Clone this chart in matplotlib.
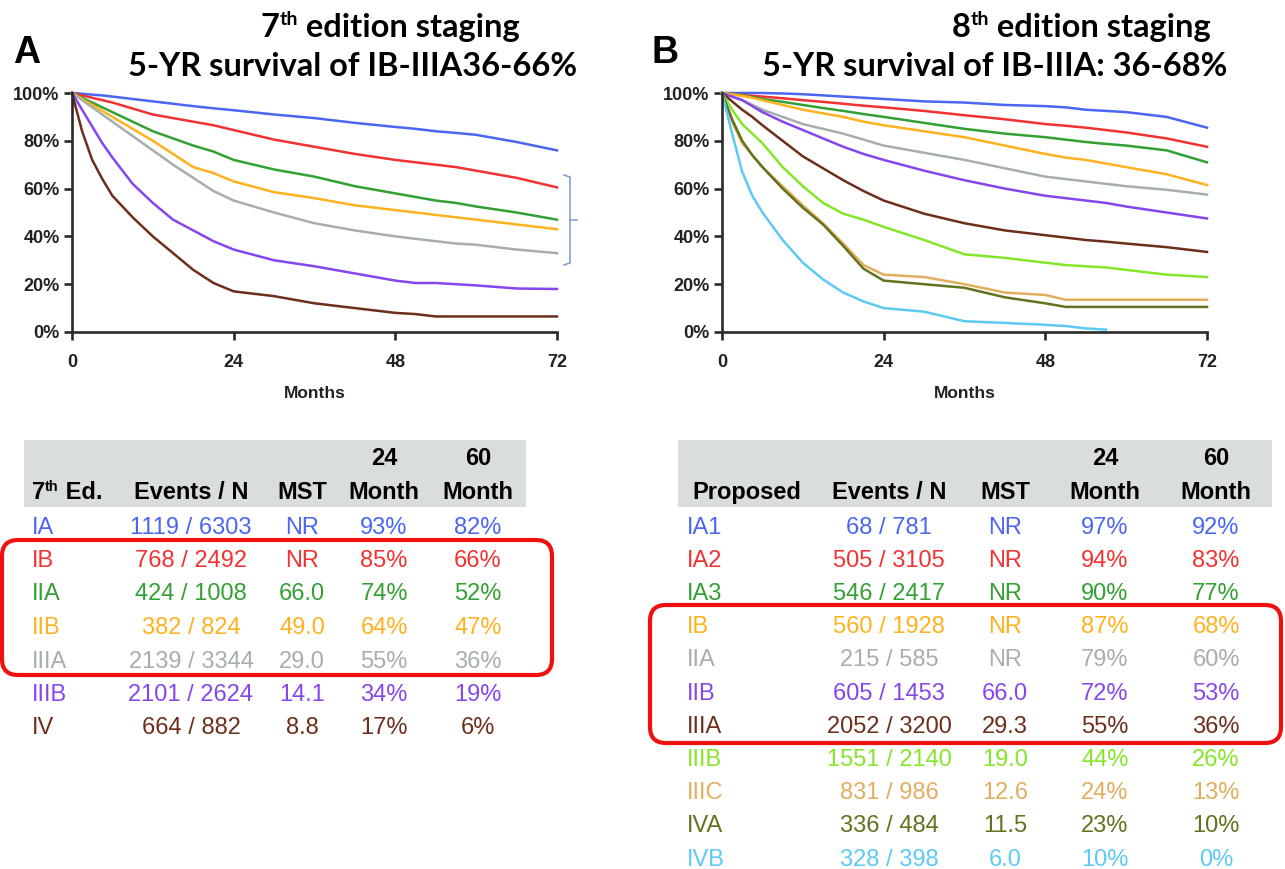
import numpy as np
import matplotlib
matplotlib.use("Agg")
import matplotlib.pyplot as plt
from matplotlib.patches import FancyBboxPatch, Rectangle
from matplotlib.lines import Line2D

# ---------------- data ----------------
months = [0, 1.5, 3, 4.5, 6, 9, 12, 15, 18, 21, 24, 30, 36, 42, 48, 51, 54, 57, 60, 66, 72]

# Panel A (7th edition) survival %
A_IA   = [100, 99.7, 99.3, 99, 98.5, 97.5, 96.5, 95.5, 94.5, 93.6, 92.8, 91, 89.5, 87.5, 85.8, 85, 84, 83.3, 82.5, 79.5, 76]
A_IB   = [100, 99, 98, 97, 96, 93.5, 91, 89.5, 88, 86.5, 84.5, 80.5, 77.5, 74.5, 72, 71, 70, 69, 67.5, 64.5, 60.5]
A_IIA  = [100, 98, 96, 94, 92, 88, 84, 81, 78, 75.5, 72, 68, 65, 61, 58, 56.5, 55, 54, 52.5, 50, 47]
A_IIB  = [100, 97.5, 95, 92.5, 90, 85, 80, 74.5, 69, 66.5, 63, 58.5, 56, 53, 51, 50, 49, 48, 47, 45, 43]
A_IIIA = [100, 97, 94, 91, 88, 82, 76, 70, 64.5, 59, 55, 50, 45.5, 42.5, 40, 39, 38, 37, 36.5, 34.5, 33]
A_IIIB = [100, 93, 86, 79, 73, 62, 54, 47, 42.5, 38, 34.5, 30, 27.5, 24.5, 21.5, 20.5, 20.5, 20, 19.5, 18.2, 18]
A_IV   = [100, 84, 72, 64, 57, 48, 40, 33, 26, 20.5, 17, 15, 12, 10, 8, 7.5, 6.5, 6.5, 6.5, 6.5, 6.5]

# Panel B (8th edition) survival %
B_IA1  = [100, 100, 100, 100, 100, 99.8, 99.5, 99, 98.5, 98, 97.5, 96.5, 96, 95, 94.5, 94, 93, 92.5, 92, 90, 85.5]
B_IA2  = [100, 99.6, 99.2, 98.8, 98.5, 97.8, 97, 96.3, 95.5, 94.7, 94, 92.5, 90.7, 89, 87, 86.3, 85.5, 84.5, 83.5, 81, 77.5]
B_IA3  = [100, 99.5, 99, 98.3, 97.5, 96.3, 95, 93.7, 92.5, 91.2, 90, 87.5, 85, 83, 81.5, 80.5, 79.5, 78.7, 78, 76, 71]
B_IB   = [100, 99.4, 98.8, 98, 97, 95, 93, 91.5, 90, 88, 86.5, 84, 81.5, 78, 74.5, 73, 72, 70.5, 69, 66, 61.5]
B_IIA  = [100, 98.5, 97, 95, 93, 90, 87, 85, 83, 80.5, 78, 75, 72, 68.5, 65, 64, 63, 62, 61, 59.5, 57.5]
B_IIB  = [100, 98.5, 97, 94.5, 92, 88, 84.5, 81, 77.5, 74.5, 72, 67.5, 63.5, 60, 57, 56, 55, 54, 52.5, 50, 47.5]
B_IIIA = [100, 96.5, 93, 90, 86.5, 80, 73.5, 68.5, 63.5, 59, 55, 49.5, 45.5, 42.5, 40.5, 39.5, 38.5, 37.8, 37, 35.5, 33.5]
B_IIIB = [100, 93, 87, 83, 79, 69, 61, 54, 49.5, 47, 44, 38.5, 32.5, 31, 29, 28, 27.5, 27, 26, 24, 23]
B_IIIC = [100, 88, 79, 74, 69, 61, 53, 45.5, 37, 28, 24, 23, 20, 16.5, 15.5, 13.5, 13.5, 13.5, 13.5, 13.5, 13.5]
B_IVA  = [100, 89, 80, 74, 69, 60, 52, 45, 36, 26.5, 21.5, 20, 18.5, 14.5, 12, 10.5, 10.5, 10.5, 10.5, 10.5, 10.5]
B_IVB  = [100, 83, 67, 57, 50, 38.5, 29, 22, 16.5, 12.8, 10, 8.5, 4.5, 3.8, 3, 2.5, 1.5, 1, None, None, None]

# Tables
A_stages = ["IA", "IB", "IIA", "IIB", "IIIA", "IIIB", "IV"]
A_events = ["1119 / 6303", "768 / 2492", "424 / 1008", "382 / 824", "2139 / 3344", "2101 / 2624", "664 / 882"]
A_mst    = ["NR", "NR", "66.0", "49.0", "29.0", "14.1", "8.8"]
A_m24    = ["93%", "85%", "74%", "64%", "55%", "34%", "17%"]
A_m60    = ["82%", "66%", "52%", "47%", "36%", "19%", "6%"]

B_stages = ["IA1", "IA2", "IA3", "IB", "IIA", "IIB", "IIIA", "IIIB", "IIIC", "IVA", "IVB"]
B_events = ["68 / 781", "505 / 3105", "546 / 2417", "560 / 1928", "215 / 585", "605 / 1453",
            "2052 / 3200", "1551 / 2140", "831 / 986", "336 / 484", "328 / 398"]
B_mst    = ["NR", "NR", "NR", "NR", "NR", "66.0", "29.3", "19.0", "12.6", "11.5", "6.0"]
B_m24    = ["97%", "94%", "90%", "87%", "79%", "72%", "55%", "44%", "24%", "23%", "10%"]
B_m60    = ["92%", "83%", "77%", "68%", "60%", "53%", "36%", "26%", "13%", "10%", "0%"]

yticks = [0, 20, 40, 60, 80, 100]
xticks = [0, 24, 48, 72]

# colours
C_BLUE, C_RED, C_GREEN, C_ORANGE = "#4a66f2", "#f23232", "#33a033", "#ffb21e"
C_GRAY, C_PURPLE, C_BROWN = "#a6aeae", "#8646ee", "#6e2e1c"
C_LIME, C_TAN, C_OLIVE, C_LBLUE = "#84e628", "#e2ae5e", "#62731f", "#5ccaf4"

A_series = [A_IA, A_IB, A_IIA, A_IIB, A_IIIA, A_IIIB, A_IV]
A_colors = [C_BLUE, C_RED, C_GREEN, C_ORANGE, C_GRAY, C_PURPLE, C_BROWN]
B_series = [B_IA1, B_IA2, B_IA3, B_IB, B_IIA, B_IIB, B_IIIA, B_IIIB, B_IIIC, B_IVA, B_IVB]
B_colors = [C_BLUE, C_RED, C_GREEN, C_ORANGE, C_GRAY, C_PURPLE, C_BROWN, C_LIME, C_TAN, C_OLIVE, C_LBLUE]

# ---------------- figure ----------------
W, H = 1285, 869
fig = plt.figure(figsize=(W / 100, H / 100), dpi=100)
fig.patch.set_facecolor("white")

# overlay axes in pixel coordinates (y downward)
ov = fig.add_axes([0, 0, 1, 1])
ov.set_xlim(0, W)
ov.set_ylim(H, 0)
ov.axis("off")

SANS = "Liberation Sans"
TITLE = "Lato"


def fx(x):
    return x / W


def fy(y):
    return 1 - y / H


def km_axes(x0, x1, series, colors):
    ax = fig.add_axes([fx(x0), fy(332), fx(x1) - fx(x0), fy(93) - fy(332)])
    for s, c in zip(series, colors):
        vals = np.array([np.nan if v is None else v for v in s], dtype=float)
        ax.plot(months, vals, color=c, lw=1.8, clip_on=False, solid_joinstyle="round")
    ax.set_xlim(0, 72)
    ax.set_ylim(0, 100)
    for side in ("top", "right"):
        ax.spines[side].set_visible(False)
    for side in ("left", "bottom"):
        ax.spines[side].set_linewidth(1.9)
        ax.spines[side].set_color("#2a2a2a")
    ax.set_xticks(xticks)
    ax.set_xticklabels([str(t) for t in xticks], fontfamily=SANS, fontweight="bold", fontsize=13, color="#222")
    ax.set_yticks(yticks)
    ax.set_yticklabels([f"{t}%" for t in yticks], fontfamily=SANS, fontweight="bold", fontsize=13, color="#222")
    ax.tick_params(axis="x", direction="out", length=6, width=1.9, color="#2a2a2a", pad=10)
    ax.tick_params(axis="y", direction="out", length=6, width=1.9, color="#2a2a2a", pad=3)
    ax.set_xlabel("Months", fontfamily=SANS, fontweight="bold", fontsize=12.5, color="#222", labelpad=11)
    ax.patch.set_alpha(0)
    return ax


axA = km_axes(72, 557, A_series, A_colors)
axB = km_axes(722, 1207, B_series, B_colors)

fig.canvas.draw()
renderer = fig.canvas.get_renderer()


def rich(x, y, parts, ha="left", family=TITLE, weight="bold", color="black"):
    """parts: list of (text, fontsize, dy_px) drawn sequentially on baseline y."""
    texts = []
    widths = []
    for s, size, dy in parts:
        t = ov.text(0, y + dy, s, fontsize=size, fontfamily=family, fontweight=weight,
                    color=color, ha="left", va="baseline")
        texts.append(t)
        widths.append(t.get_window_extent(renderer).width)
    total = sum(widths)
    if ha == "center":
        start = x - total / 2
    elif ha == "right":
        start = x - total
    else:
        start = x
    cur = start
    for t, w in zip(texts, widths):
        t.set_x(cur)
        cur += w
    return texts


# Panel letters
ov.text(13, 63, "A", fontsize=27, fontfamily=SANS, fontweight="bold", ha="left", va="baseline")
ov.text(652, 63, "B", fontsize=27, fontfamily=SANS, fontweight="bold", ha="left", va="baseline")

# Titles
rich(390, 37, [("7", 23.5, 0), ("th", 14, -12), (" edition staging", 23.5, 0)], ha="center")
rich(353, 76, [("5-YR survival of IB-IIIA36-66%", 23.5, 0)], ha="center")
rich(1081, 37, [("8", 23.5, 0), ("th", 14, -12), (" edition staging", 23.5, 0)], ha="center")
rich(995, 76, [("5-YR survival of IB-IIIA: 36-68%", 23.5, 0)], ha="center")

# bracket in panel A
bc = "#7a98d8"
ov.add_line(Line2D([564, 570, 570, 564], [175, 177, 263, 265], color=bc, lw=1.1))
ov.add_line(Line2D([570, 577], [220, 220], color=bc, lw=1.1))

# ---------------- tables ----------------
TFS = 17


def table(x0, x1, label_x, cols_x, head_label, stages, events, mst, m24, m60, colors, row0, dy):
    ov.add_patch(Rectangle((x0, 440), x1 - x0, 67, facecolor="#d9dedd", edgecolor="none", zorder=0))
    hb = 499
    ov.text(cols_x[0], hb, "Events / N", fontsize=TFS, fontfamily=SANS, fontweight="bold", ha="center", va="baseline")
    ov.text(cols_x[1], hb, "MST", fontsize=TFS, fontfamily=SANS, fontweight="bold", ha="center", va="baseline")
    for cx, top in zip(cols_x[2:], ["24", "60"]):
        ov.text(cx, 465, top, fontsize=TFS, fontfamily=SANS, fontweight="bold", ha="center", va="baseline")
        ov.text(cx, hb, "Month", fontsize=TFS, fontfamily=SANS, fontweight="bold", ha="center", va="baseline")
    head_label(hb)
    for i, (st, ev, ms, a, b, c) in enumerate(zip(stages, events, mst, m24, m60, colors)):
        yb = row0 + dy * i + 8.5
        ov.text(label_x, yb, st, fontsize=TFS, fontfamily=SANS, color=c, ha="left", va="baseline")
        for cx, s in zip(cols_x, [ev, ms, a, b]):
            ov.text(cx, yb, s, fontsize=TFS, fontfamily=SANS, color=c, ha="center", va="baseline")


def headA(hb):
    rich(32, hb, [("7", TFS, 0), ("th", 10.5, -8), (" Ed.", TFS, 0)], family=SANS)


def headB(hb):
    ov.text(747, hb, "Proposed", fontsize=TFS, fontfamily=SANS, fontweight="bold", ha="center", va="baseline")


table(24, 526, 32, [191, 302, 384, 478], headA, A_stages, A_events, A_mst, A_m24, A_m60, A_colors, 525, 33.5)
table(678, 1272, 687, [889, 1005, 1105, 1216], headB, B_stages, B_events, B_mst, B_m24, B_m60, B_colors, 525, 33.2)

# red rounded boxes
ov.add_patch(FancyBboxPatch((2, 540), 550, 135, boxstyle="round,pad=0,rounding_size=16",
                            facecolor="none", edgecolor="#f01010", lw=3.0, zorder=5))
ov.add_patch(FancyBboxPatch((650, 605), 631, 138, boxstyle="round,pad=0,rounding_size=16",
                            facecolor="none", edgecolor="#f01010", lw=3.0, zorder=5))

fig.savefig("out.png", dpi=100, facecolor="white")
